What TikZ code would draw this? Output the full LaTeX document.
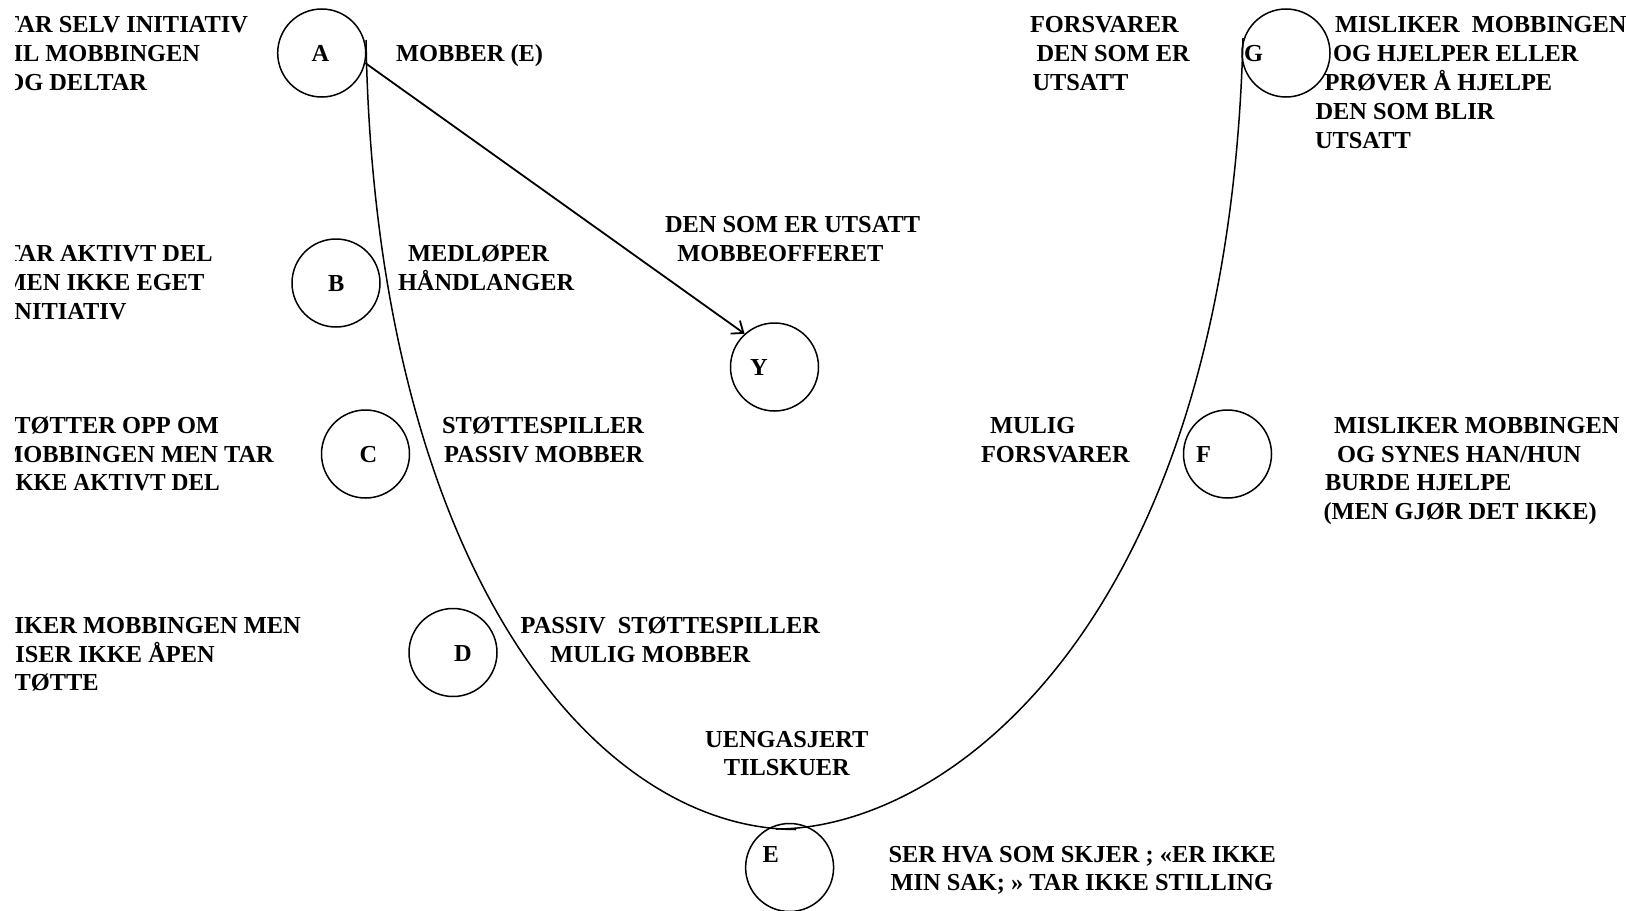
\documentclass[tikz,border=0pt]{standalone}
\usepackage{fontspec}
\setmainfont{Liberation Serif}
\usetikzlibrary{arrows.meta}
\begin{document}
\begin{tikzpicture}[x=0.5pt,y=-0.5pt,
  txt/.style={inner sep=0pt, outer sep=0pt, font=\fontsize{12.2pt}{14.5pt}\selectfont\bfseries},
  lw/.style={txt, anchor=base west},
  le/.style={txt, anchor=base east},
  ring/.style={draw, circle, line width=0.75pt, inner sep=0pt, minimum size=44pt},
  curveline/.style={line width=0.75pt},
  arrowline/.style={line width=0.9pt, -{Straight Barb[length=5pt,width=8pt]}}
]
\path[use as bounding box, fill=white] (0,0) rectangle (1626,910);

% circles
\node[ring] (cA) at (321.7,53) {};
\node[ring] (cB) at (336,283) {};
\node[ring] (cC) at (365.5,454) {};
\node[ring] (cD) at (453,652.5) {};
\node[ring] (cE) at (789.6,867.5) {};
\node[ring] (cF) at (1227.5,454) {};
\node[ring] (cG) at (1286,53) {};
\node[ring] (cY) at (774.5,367) {};

% letters
\node[lw] (nA) at (311.7,61.7) {A};
\node[lw] (nB) at (328,291) {B};
\node[lw] (nC) at (359.5,462) {C};
\node[lw] (nD) at (454,661.7) {D};
\node[lw] (nE) at (762.5,862.5) {E};
\node[lw] (nF) at (1196,462) {F};
\node[lw] (nG) at (1244,61.7) {G};
\node[lw] (nY) at (750,375) {Y};

% U-shaped curve
\draw[curveline] (366,40) .. controls (375,560) and (590,829) .. (796,829.5);
\draw[curveline] (776,829) .. controls (950,829) and (1228,620) .. (1243,38);

% arrow A -> Y
\draw[arrowline] (cA.-13) -- (cY.132);

% left column (clipped at the left edge)
\begin{scope}
\clip (15.5,0) rectangle (700,910);
\node[le] (ta1) at (248,32.7) {TAR SELV INITIATIV};
\node[le] (ta2) at (200,61.7) {TIL MOBBINGEN};
\node[le] (ta3) at (147,90.7) {OG DELTAR};
\node[le] (tb1) at (212.6,261.8) {TAR AKTIVT DEL};
\node[le] (tb2) at (204.3,290.8) {MEN IKKE EGET};
\node[le] (tb3) at (126.5,319.8) {INITIATIV};
\node[le] (tc1) at (219,433) {STØTTER OPP OM};
\node[le] (tc2) at (273.8,462) {MOBBINGEN MEN TAR};
\node[lw] (tc3) at (6.4,490.5) {\scalebox{0.96}[1]{IKKE AKTIVT DEL}};
\node[le] (td1) at (300.7,633) {LIKER MOBBINGEN MEN};
\node[le] (td2) at (214.7,662) {VISER IKKE ÅPEN};
\node[lw] (td3) at (1,690.5) {STØTTE};
\end{scope}

% labels
\node[lw] (la) at (396,61.7) {MOBBER (E)};
\node[lw] (lb1) at (408,261.8) {MEDLØPER};
\node[lw] (lb2) at (398,290.8) {HÅNDLANGER};
\node[lw] (lc1) at (442,433) {STØTTESPILLER};
\node[lw] (lc2) at (444,462) {PASSIV MOBBER};
\node[lw] (ld1) at (520.7,633) {PASSIV\ \ STØTTESPILLER};
\node[lw] (ld2) at (550.3,662) {MULIG MOBBER};
\node[txt, anchor=base] (le1) at (786.8,747.3) {UENGASJERT};
\node[txt, anchor=base] (le2) at (786.8,775.5) {TILSKUER};
\node[lw] (le3) at (888.5,862.5) {SER HVA SOM SKJER ; «ER IKKE};
\node[lw] (le4) at (890.5,890.5) {MIN SAK; » TAR IKKE STILLING};
\node[lw] (lf1) at (990,433) {MULIG};
\node[lw] (lf2) at (981,462) {FORSVARER};
\node[lw] (lf3) at (1334,433) {MISLIKER MOBBINGEN};
\node[lw] (lf4) at (1337,462) {OG SYNES HAN/HUN};
\node[lw] (lf5) at (1325,490.5) {BURDE HJELPE};
\node[lw] (lf6) at (1323.5,519.5) {(MEN GJØR DET IKKE)};
\node[lw] (lg1) at (1030,32.7) {FORSVARER};
\node[lw] (lg2) at (1036.5,61.7) {DEN SOM ER};
\node[lw] (lg3) at (1032.5,90.7) {UTSATT};
\node[lw] (lg4) at (1335,32.7) {MISLIKER\ \ MOBBINGEN};
\node[lw] (lg5) at (1333,61.7) {OG HJELPER ELLER};
\node[lw] (lg6) at (1324.5,90.7) {PRØVER Å HJELPE};
\node[lw] (lg7) at (1315.5,119.7) {DEN SOM BLIR};
\node[lw] (lg8) at (1315,148.7) {UTSATT};
\node[lw] (ly1) at (665,232.3) {DEN SOM ER UTSATT};
\node[lw] (ly2) at (677.3,261) {MOBBEOFFERET};
\end{tikzpicture}
\end{document}
